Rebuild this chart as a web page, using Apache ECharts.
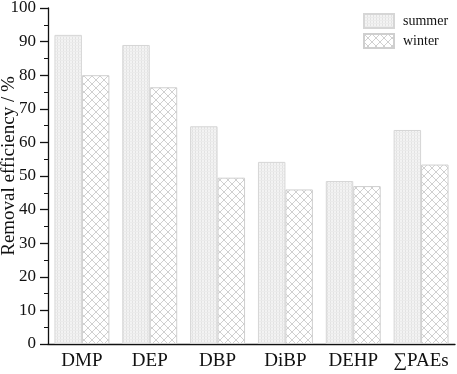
<!DOCTYPE html>
<html>
<head>
<meta charset="utf-8">
<script src="https://cdn.jsdelivr.net/npm/echarts@6/dist/echarts.min.js"></script>
<style>
  html, body { margin: 0; padding: 0; background: #fff; }
  #chart { width: 457px; height: 374px; }
</style>
</head>
<body>
<div id="chart"></div>
<script>
var categories = ['DMP', 'DEP', 'DBP', 'DiBP', 'DEHP', '∑PAEs'];
var summer = [92, 89, 64.8, 54.2, 48.5, 63.7];
var winter = [80, 76.4, 49.5, 46, 47, 53.4];

// fine grid fill for summer bars
function gridPattern() {
    var c = document.createElement('canvas');
    c.width = 3; c.height = 3;
    var ctx = c.getContext('2d');
    ctx.fillStyle = '#f3f3f3';
    ctx.fillRect(0, 0, 3, 3);
    ctx.fillStyle = '#e2e2e2';
    ctx.fillRect(0, 0, 1, 3);
    ctx.fillStyle = '#ebebeb';
    ctx.fillRect(0, 0, 3, 1);
    return c;
}
// diagonal cross hatch for winter bars
function crossPattern() {
    var s = 8;
    var c = document.createElement('canvas');
    c.width = s; c.height = s;
    var ctx = c.getContext('2d');
    ctx.fillStyle = '#ffffff';
    ctx.fillRect(0, 0, s, s);
    ctx.strokeStyle = '#c4c4c4';
    ctx.lineWidth = 0.8;
    ctx.beginPath();
    ctx.moveTo(0, 0); ctx.lineTo(s, s);
    ctx.moveTo(s, 0); ctx.lineTo(0, s);
    ctx.stroke();
    return c;
}

var font = 'Liberation Serif';
var chart = echarts.init(document.getElementById('chart'));
var option = {
    animation: false,
    textStyle: { fontFamily: font },
    grid: { left: 48, right: 2, top: 8, bottom: 30, outerBoundsMode: 'none', containLabel: false },
    legend: {
        orient: 'vertical',
        left: 363,
        top: 13,
        padding: 0,
        icon: 'rect',
        itemWidth: 30,
        itemHeight: 14,
        itemGap: 4,
        textStyle: { fontFamily: font, fontSize: 14, color: '#111', padding: [0, 0, 0, 4] },
        data: ['summer', 'winter']
    },
    xAxis: {
        type: 'category',
        data: categories,
        axisLine: { lineStyle: { color: '#111', width: 1.3 } },
        axisTick: { alignWithLabel: true, length: 5, lineStyle: { color: '#111', width: 1.3 } },
        axisLabel: { interval: 0, fontFamily: font, fontSize: 19, color: '#111', margin: 8 }
    },
    yAxis: {
        type: 'value',
        min: 0,
        max: 100,
        interval: 10,
        name: 'Removal efficiency / %',
        nameLocation: 'middle',
        nameGap: 29,
        nameMoveOverlap: false,
        nameTextStyle: { fontFamily: font, fontSize: 19, color: '#111', padding: [0, 0, 0, 20] },
        axisLine: { show: true, lineStyle: { color: '#111', width: 1.3 } },
        axisTick: { show: true, length: 8, lineStyle: { color: '#111', width: 1.3 } },
        minorTick: { show: true, splitNumber: 2, length: 4, lineStyle: { color: '#111', width: 1 } },
        splitLine: { show: false },
        axisLabel: { fontFamily: font, fontSize: 17, color: '#111', margin: 12 }
    },
    series: [
        {
            name: 'summer',
            type: 'bar',
            data: summer,
            barGap: '0%',
            barCategoryGap: '19%',
            itemStyle: {
                color: { image: gridPattern(), repeat: 'repeat' },
                borderColor: '#d6d6d6',
                borderWidth: 1
            }
        },
        {
            name: 'winter',
            type: 'bar',
            data: winter,
            itemStyle: {
                color: { image: crossPattern(), repeat: 'repeat' },
                borderColor: '#cfcfcf',
                borderWidth: 1
            }
        }
    ]
};
chart.setOption(option);
</script>
</body>
</html>
